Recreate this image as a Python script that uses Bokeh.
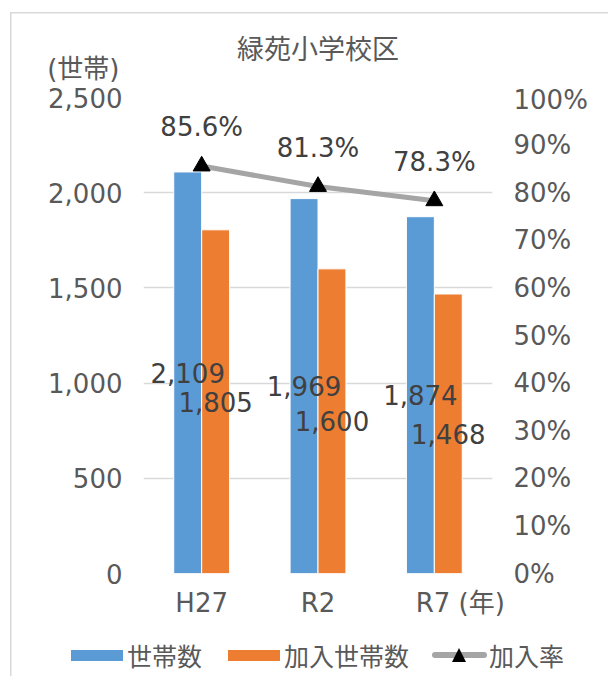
from bokeh.plotting import figure
from bokeh.layouts import column
from bokeh.core.properties import value
from bokeh.models import (FactorRange, Range1d, LinearAxis, FixedTicker, NumeralTickFormatter,
                          ColumnDataSource, LabelSet, Div)
from bokeh.transform import dodge
from bokeh.embed import file_html
from bokeh.resources import INLINE

categories = ["H27", "R2", "R7"]
households = [2109, 1969, 1874]
members = [1805, 1600, 1468]
rates = [0.856, 0.813, 0.783]
left_ticks = [0, 500, 1000, 1500, 2000, 2500]
right_ticks = [0.0, 0.1, 0.2, 0.3, 0.4, 0.5, 0.6, 0.7, 0.8, 0.9, 1.0]
x_unit = "(年)"
y_unit = "(世帯)"
title = "緑苑小学校区"
series_names = ["世帯数", "加入世帯数", "加入率"]

FONT = "DejaVu Sans, Noto Sans CJK JP"
NUMFONT = "DejaVu Sans"
TXT = "#595959"
LBL = "#404040"
BLUE = "#5b9bd5"
ORANGE = "#ed7d31"
GRAY = "#a5a5a5"
GRID = "#d9d9d9"
W_ALL = 608
B_LEFT, B_RIGHT = 143, W_ALL - 492

# axis factors: the last one carries the year unit, padded so "R7" stays centred
factors = categories[:-1] + ["\u2003\u2003" + categories[-1] + " " + x_unit]

src = ColumnDataSource(dict(
    cat=factors,
    hh=households,
    mem=members,
    hh_mid=[v / 2 for v in households],
    mem_mid=[v / 2 for v in members],
    hh_txt=[f"{v:,}" for v in households],
    mem_txt=[f"{v:,}" for v in members],
    rate=rates,
    rate_txt=[f"{v*100:.1f}%" for v in rates],
))

# ---------- header: title + y unit ----------
ph = figure(width=W_ALL, height=84, x_range=Range1d(0, 1), y_range=Range1d(0, 1),
            x_axis_type=None, toolbar_location=None, output_backend="svg",
            min_border_left=B_LEFT, min_border_right=B_RIGHT, min_border_top=64,
            min_border_bottom=12, outline_line_color=None,
            background_fill_color=None, border_fill_color=None)
ph.grid.visible = False
ph.title.text = title
ph.title.align = "center"
ph.title.offset = -7
ph.title.standoff = 0
ph.title.text_font = FONT
ph.title.text_font_size = "27px"
ph.title.text_font_style = "normal"
ph.title.text_color = TXT
hy = ph.yaxis[0]
hy.ticker = FixedTicker(ticks=[])
hy.axis_line_color = None
hy.major_tick_out = 0
hy.major_tick_in = 0
hy.major_label_standoff = 0
hy.axis_label = y_unit
hy.axis_label_standoff = 24
hy.axis_label_text_font = FONT
hy.axis_label_text_font_size = "26px"
hy.axis_label_text_font_style = "normal"
hy.axis_label_text_color = TXT
try:
    hy.axis_label_orientation = "horizontal"
except Exception:
    pass

# ---------- main chart ----------
p = figure(x_range=FactorRange(factors=factors, range_padding=0),
           y_range=Range1d(0, 2500),
           width=W_ALL, height=536, output_backend="svg", toolbar_location=None,
           min_border_left=B_LEFT, min_border_right=B_RIGHT, min_border_top=13,
           min_border_bottom=47, background_fill_color=None, border_fill_color=None)
p.outline_line_color = None
p.extra_y_ranges = {"pct": Range1d(0, 1)}

OFF = 0.12
W = 0.24
p.vbar(x=dodge("cat", -OFF, range=p.x_range), top="hh", width=W, source=src,
       fill_color=BLUE, line_color="white", line_width=1)
p.vbar(x=dodge("cat", OFF, range=p.x_range), top="mem", width=W, source=src,
       fill_color=ORANGE, line_color="white", line_width=1)
p.line(x="cat", y="rate", source=src, y_range_name="pct", line_color=GRAY, line_width=5)
p.scatter(x="cat", y="rate", source=src, y_range_name="pct", marker="triangle",
          size=17, fill_color="black", line_color="black")

for col, ycol, off in (("hh_txt", "hh_mid", -OFF), ("mem_txt", "mem_mid", OFF)):
    p.add_layout(LabelSet(x=dodge("cat", off, range=p.x_range), y=ycol, text=col, source=src,
                          text_align="center", text_baseline="middle", text_font=value(NUMFONT),
                          text_font_size=value("26px"), text_color=LBL))
p.add_layout(LabelSet(x="cat", y="rate", y_range_name="pct", text="rate_txt", source=src,
                      text_align="center", text_baseline="middle", y_offset=39,
                      text_font=value(NUMFONT), text_font_size=value("26px"), text_color=LBL))

p.yaxis.ticker = FixedTicker(ticks=left_ticks)
p.yaxis.formatter = NumeralTickFormatter(format="0,0")
ax_r = LinearAxis(y_range_name="pct", ticker=FixedTicker(ticks=right_ticks),
                  formatter=NumeralTickFormatter(format="0%"))
p.add_layout(ax_r, "right")
for ax in (p.yaxis[0], ax_r, p.xaxis[0]):
    ax.axis_line_color = None
    ax.major_tick_line_color = None
    ax.minor_tick_line_color = None
    ax.major_tick_out = 0
    ax.major_tick_in = 0
    ax.minor_tick_out = 0
    ax.major_label_text_font_size = "26px"
    ax.major_label_text_color = TXT
p.yaxis[0].major_label_text_font = NUMFONT
ax_r.major_label_text_font = NUMFONT
p.xaxis[0].major_label_text_font = FONT
p.yaxis[0].major_label_standoff = 21
ax_r.major_label_standoff = 21
p.xaxis[0].major_label_standoff = 14

p.xgrid.grid_line_color = None
p.ygrid.ticker = FixedTicker(ticks=left_ticks)
p.ygrid.grid_line_color = GRID
p.ygrid.grid_line_width = 1.5

# ---------- legend strip (HTML) ----------
def box(left, top, w, h, color, extra=""):
    return (f'<div style="position:absolute;left:{left}px;top:{top}px;width:{w}px;'
            f'height:{h}px;background:{color};{extra}"></div>')

def text(left, label):
    return (f'<div style="position:absolute;left:{left}px;top:35px;transform:translateY(-50%);'
            f"font-family:'Noto Sans CJK JP';font-size:25px;line-height:1;color:{TXT};"
            f'white-space:nowrap">{label}</div>')

legend_html = (
    '<div style="position:relative;width:%dpx;height:56px;">' % W_ALL
    + box(71, 30, 52, 11, BLUE) + text(127, series_names[0])
    + box(228, 30, 52, 11, ORANGE) + text(284, series_names[1])
    + box(432, 32, 55, 6, GRAY, "border-radius:3px")
    + ('<div style="position:absolute;left:452px;top:28px;width:0;height:0;'
       'border-left:7.5px solid transparent;border-right:7.5px solid transparent;'
       'border-bottom:14px solid #000"></div>')
    + text(489, series_names[2])
    + '</div>'
)
legend_div = Div(text=legend_html, width=W_ALL, height=56, margin=(0, 0, 0, 0))

layout = column(ph, p, legend_div, spacing=0, background="white",
                styles={"box-shadow": "inset 10px 12px 0 0 white, inset 11.5px 13.5px 0 0 #d9d9d9"})
open("out.html", "w").write(file_html(layout, INLINE))
